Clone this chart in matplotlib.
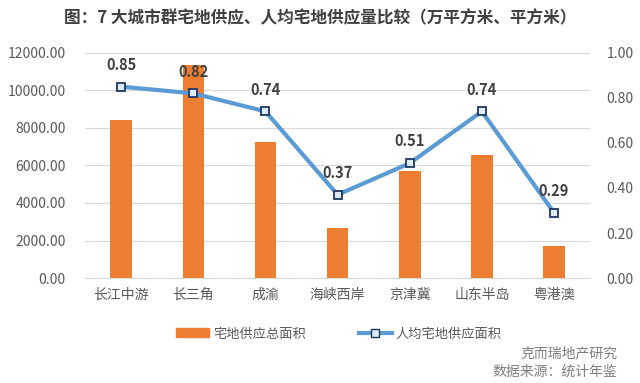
import matplotlib
matplotlib.use("Agg")
import matplotlib.pyplot as plt
from matplotlib.lines import Line2D
from matplotlib.patches import Patch
import numpy as np

plt.rcParams["font.family"] = ["Noto Sans CJK SC", "DejaVu Sans"]

regions = ["长江中游", "长三角", "成渝", "海峡西岸", "京津冀", "山东半岛", "粤港澳"]
total_area = [8400, 11350, 7250, 2680, 5700, 6560, 1700]
per_capita = [0.85, 0.82, 0.74, 0.37, 0.51, 0.74, 0.29]

BAR_C = "#ED7D31"
LINE_C = "#5B9BD5"
TXT_C = "#595959"

fig = plt.figure(figsize=(6.4, 3.83), dpi=100)
ax = fig.add_axes([0.133, 0.274, 0.789, 0.588])
x = np.arange(len(regions))

ax.bar(x, total_area, width=0.3, color=BAR_C, zorder=2)
ax.set_ylim(0, 12000)
ax.set_yticks(np.arange(0, 12001, 2000))
ax.set_yticklabels([f"{v:.2f}" for v in np.arange(0, 12001, 2000)])
ax.set_xlim(-0.5, len(regions) - 0.5)
ax.set_xticks(x)
ax.set_xticklabels(regions)
ax.grid(axis="y", color="#D9D9D9", linewidth=0.8, zorder=0)
for s in ["top", "right", "left"]:
    ax.spines[s].set_visible(False)
ax.spines["bottom"].set_color("#D9D9D9")
ax.tick_params(axis="both", length=0, colors=TXT_C, labelsize=10)
ax.tick_params(axis="y", pad=14)
ax.tick_params(axis="x", pad=7)

ax2 = ax.twinx()
ax2.plot(x, per_capita, color=LINE_C, linewidth=3, marker="s", markersize=6,
         markerfacecolor="#DDEBF7", markeredgecolor="#1F3864", markeredgewidth=1.3, zorder=3)
ax2.set_ylim(0, 1.0)
ax2.set_yticks(np.arange(0, 1.01, 0.2))
ax2.set_yticklabels([f"{v:.2f}" for v in np.arange(0, 1.01, 0.2)])
for s in ["top", "right", "left", "bottom"]:
    ax2.spines[s].set_visible(False)
ax2.tick_params(axis="y", length=0, colors=TXT_C, labelsize=10, pad=12)

for xi, v in zip(x, per_capita):
    ax2.annotate(f"{v:.2f}", (xi, v), xytext=(0, 10), textcoords="offset points",
                 ha="center", va="bottom", fontsize=10.5, fontweight="bold", color="#404040")

fig.text(0.5, 0.952, "图：7 大城市群宅地供应、人均宅地供应量比较（万平方米、平方米）",
         ha="center", va="center", fontsize=12, fontweight="bold", color="#404040")

handles = [Patch(color=BAR_C),
           Line2D([0], [0], color=LINE_C, linewidth=3, marker="s", markersize=6,
                  markerfacecolor="#DDEBF7", markeredgecolor="#1F3864")]
fig.legend(handles, ["宅地供应总面积", "人均宅地供应面积"], loc="center",
           bbox_to_anchor=(0.53, 0.128), ncol=2, frameon=False, fontsize=9.5,
           labelcolor=TXT_C, handlelength=2.5, columnspacing=4, handletextpad=0.3)

fig.text(0.965, 0.078, "克而瑞地产研究", ha="right", va="center", fontsize=10, color="#7F7F7F")
fig.text(0.965, 0.03, "数据来源：统计年鉴", ha="right", va="center", fontsize=10, color="#7F7F7F")

fig.savefig("out.png", dpi=100)
